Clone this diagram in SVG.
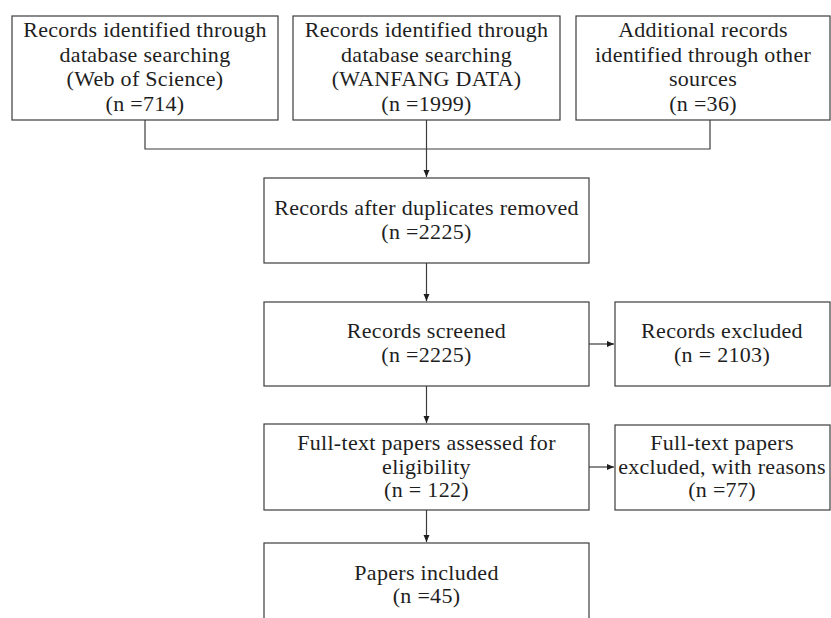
<svg xmlns="http://www.w3.org/2000/svg" width="831" height="618" viewBox="0 0 831 618">
<defs>
<style>
.box{fill:#fff;stroke:#3c3c3c;stroke-width:1.2}
.t{font-family:"Liberation Serif","Times New Roman",serif;font-size:22px;letter-spacing:0.3px;fill:#1e1e1e;text-anchor:middle}
.c{fill:none;stroke:#3c3c3c;stroke-width:1.2}
</style>
<marker id="ah" markerWidth="8" markerHeight="8" refX="7" refY="4" orient="auto" markerUnits="userSpaceOnUse">
<path d="M0,1 L7,4 L0,7 Z" fill="#1e1e1e"/>
</marker>
</defs>
<rect width="831" height="618" fill="#fff"/>
<g id="connectors">
<polyline class="c" points="145,120 145,149 710,149 710,120"/>
<line class="c" x1="426.5" y1="120" x2="426.5" y2="177" marker-end="url(#ah)"/>
<line class="c" x1="426.5" y1="263" x2="426.5" y2="301" marker-end="url(#ah)"/>
<line class="c" x1="426.5" y1="386" x2="426.5" y2="423" marker-end="url(#ah)"/>
<line class="c" x1="426.5" y1="510" x2="426.5" y2="542" marker-end="url(#ah)"/>
<line class="c" x1="589" y1="344" x2="614" y2="344" marker-end="url(#ah)"/>
<line class="c" x1="589" y1="467" x2="614" y2="467" marker-end="url(#ah)"/>
</g>
<g id="wos">
<rect class="box" x="12" y="16" width="266" height="104"/>
<text class="t" x="145" y="37">Records identified through</text>
<text class="t" x="145" y="61.5">database searching</text>
<text class="t" x="145" y="86">(Web of Science)</text>
<text class="t" x="145" y="110.5">(n =714)</text>
</g>
<g id="wanfang">
<rect class="box" x="293" y="16" width="267" height="104"/>
<text class="t" x="426.5" y="37">Records identified through</text>
<text class="t" x="426.5" y="61.5">database searching</text>
<text class="t" x="426.5" y="86">(WANFANG DATA)</text>
<text class="t" x="426.5" y="110.5">(n =1999)</text>
</g>
<g id="other">
<rect class="box" x="576" y="16" width="254" height="104"/>
<text class="t" x="703" y="37">Additional records</text>
<text class="t" x="703" y="61.5">identified through other</text>
<text class="t" x="703" y="86">sources</text>
<text class="t" x="703" y="110.5">(n =36)</text>
</g>
<g id="dedup">
<rect class="box" x="264" y="178" width="325" height="85"/>
<text class="t" x="426.5" y="215">Records after duplicates removed</text>
<text class="t" x="426.5" y="239">(n =2225)</text>
</g>
<g id="screened">
<rect class="box" x="264" y="302" width="325" height="84"/>
<text class="t" x="426.5" y="338">Records screened</text>
<text class="t" x="426.5" y="362">(n =2225)</text>
</g>
<g id="excluded">
<rect class="box" x="615" y="302" width="215" height="84"/>
<text class="t" x="722" y="338">Records excluded</text>
<text class="t" x="722" y="362">(n = 2103)</text>
</g>
<g id="fulltext">
<rect class="box" x="264" y="424" width="325" height="86"/>
<text class="t" x="426.5" y="450">Full-text papers assessed for</text>
<text class="t" x="426.5" y="473.5">eligibility</text>
<text class="t" x="426.5" y="497">(n = 122)</text>
</g>
<g id="ftexcluded">
<rect class="box" x="615" y="425" width="215" height="85"/>
<text class="t" x="722" y="450">Full-text papers</text>
<text class="t" x="722" y="473.5">excluded, with reasons</text>
<text class="t" x="722" y="497">(n =77)</text>
</g>
<g id="included">
<rect class="box" x="264" y="543" width="325" height="90"/>
<text class="t" x="426.5" y="580">Papers included</text>
<text class="t" x="426.5" y="603">(n =45)</text>
</g>
</svg>
